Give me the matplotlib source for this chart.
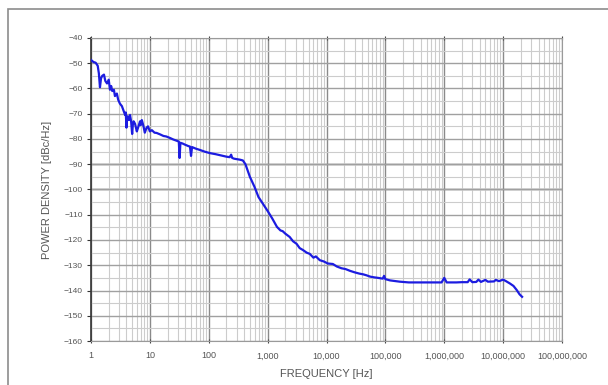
import matplotlib
matplotlib.use("Agg")
import matplotlib.pyplot as plt
from matplotlib.ticker import FixedLocator, FuncFormatter, LogLocator, NullFormatter

plt.rcParams['font.family'] = ['Liberation Sans', 'DejaVu Sans']

freq = [1, 1.1, 1.2, 1.3, 1.36, 1.42, 1.48, 1.55, 1.66, 1.75, 1.87, 2.0, 2.1, 2.2,
        2.3, 2.45, 2.55, 2.75, 2.9, 3.1, 3.35, 3.6, 3.8, 3.9, 4.0, 4.1, 4.2, 4.4,
        4.6, 4.8, 5.0, 5.15, 5.3, 5.6, 6.0, 6.3, 6.8, 7.0, 7.3, 7.8, 8.2, 8.8, 9.3,
        10, 10.8, 12, 13, 15, 17, 19, 22, 25, 28, 31, 32, 33, 36, 40, 45, 48, 50,
        52, 60, 70, 85, 105, 130, 160, 200, 227, 240, 250, 270, 300, 340, 380, 420,
        500, 600, 700, 850, 1000, 1200, 1440, 1650, 1800, 2000, 2370, 2700, 3100,
        3500, 4000, 4600, 5200, 6000, 6600, 7700, 9000, 10500, 12800, 15000, 18000,
        21000, 25000, 30000, 36000, 42000, 48000, 55000, 65000, 75000, 90000,
        95000, 100000, 120000, 150000, 175000, 250000, 400000, 630000, 900000,
        1.0e6, 1.1e6, 1.6e6, 2.0e6, 2.5e6, 2.7e6, 3.0e6, 3.5e6, 3.8e6, 4.2e6,
        5.0e6, 5.5e6, 7.0e6, 7.5e6, 8.5e6, 1.0e7, 1.1e7, 1.3e7, 1.5e7, 1.7e7,
        1.9e7, 2.1e7]
density = [-48.7, -49.5, -49.8, -51, -54, -59.5, -56, -55, -54.5, -57, -58, -56.5,
           -60.5, -59, -61, -60.5, -63, -62, -64.5, -66, -67, -69, -70.5, -69.5,
           -75.5, -72, -71, -72.5, -70.5, -73, -78, -74, -73, -74, -77, -75.5,
           -73, -74.5, -72.5, -75, -77.5, -75.5, -75, -77, -76.5, -77.5, -77.6,
           -78.2, -78.8, -79, -79.6, -80.2, -80.6, -81, -87.5, -81.5, -81.8, -82.3,
           -82.8, -83, -86.7, -83.2, -83.8, -84.3, -85, -85.6, -86, -86.5, -87,
           -87.2, -86.2, -87.5, -87.8, -88, -88.2, -88.5, -90, -95, -99, -103,
           -106, -108.5, -111.5, -114.8, -116.2, -116.5, -117.5, -118.8, -120.5,
           -121.5, -123.2, -124, -125, -125.5, -127, -126.5, -128, -128.5, -129.3,
           -129.5, -130.5, -131.2, -131.5, -132.2, -132.8, -133.3, -133.6, -134,
           -134.5, -134.8, -135, -135.3, -134.2, -135.5, -136, -136.3, -136.5,
           -136.8, -136.8, -136.8, -136.8, -135, -136.8, -136.8, -136.7, -136.7,
           -135.6, -136.7, -136.6, -135.7, -136.6, -135.8, -136.5, -136.4, -135.8,
           -136.3, -135.7, -136.2, -137.2, -138.2, -139.8, -141.5, -142.5]

x_ticks = [1, 10, 100, 1000, 10000, 100000, 1000000, 10000000, 100000000]
y_ticks = list(range(-160, -39, 10))
dark_lines = [-90, -100]

fig = plt.figure(figsize=(6.08, 3.85), dpi=100)
fig.patches.append(plt.Rectangle((8 / 608, -0.05), 1.2, 1 - 9 / 385 + 0.05,
                                 transform=fig.transFigure, fill=False,
                                 edgecolor='#8c8c8c', lw=1.2))
ax = fig.add_axes([91 / 608, 1 - 341 / 385, 471 / 608, 303 / 385])

ax.set_xscale('log')
ax.set_xlim(1, 1e8)
ax.set_ylim(-160, -40)

# grid
ax.xaxis.set_minor_locator(LogLocator(base=10, subs=range(2, 10), numticks=20))
ax.xaxis.set_minor_formatter(NullFormatter())
ax.yaxis.set_minor_locator(FixedLocator(range(-155, -40, 10)))
ax.grid(which='minor', axis='both', color='#cccccc', lw=0.8)
ax.grid(which='major', axis='x', color='#8a8a8a', lw=1.0)
ax.grid(which='major', axis='y', color='#a0a0a0', lw=1.0)
for yv in dark_lines:
    ax.axhline(yv, color='#4a4a4a', lw=1.0, zorder=1.5)

ax.plot(freq, density, color='#1c1ce0', lw=1.6, zorder=3)

ax.set_xticks(x_ticks)
ax.xaxis.set_major_formatter(FuncFormatter(lambda v, p: f"{int(round(v)):,}"))
ax.set_yticks(y_ticks)
ax.tick_params(axis='x', which='major', top=True, direction='inout', length=3,
               labelsize=6.5, labelcolor='#555555', pad=6, color='#444444')
ax.tick_params(axis='x', which='minor', length=0)
ax.tick_params(axis='y', which='major', direction='out', length=3,
               labelsize=6, labelcolor='#555555', pad=3, color='#333333')
ax.tick_params(axis='y', which='minor', length=0)

for s in ['top', 'right', 'bottom']:
    ax.spines[s].set_color('#9a9a9a')
ax.spines['left'].set_color('#333333')
ax.spines['left'].set_linewidth(1.2)

ax.set_xlabel('FREQUENCY [Hz]', fontsize=8, color='#555555', labelpad=6)
ax.set_ylabel('POWER DENSITY [dBc/Hz]', fontsize=8, color='#555555', labelpad=8)

fig.savefig('out.png', dpi=100)
